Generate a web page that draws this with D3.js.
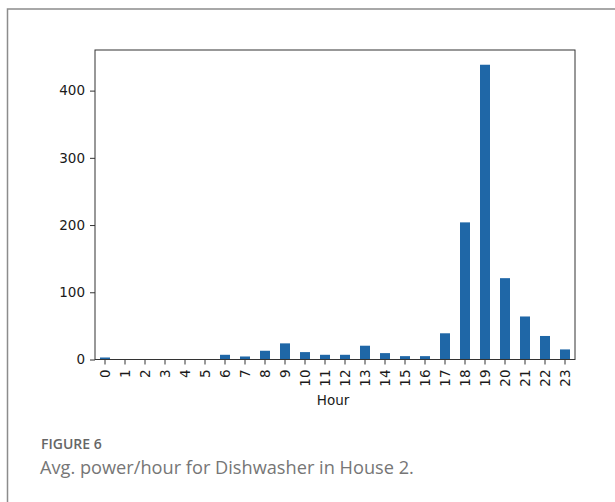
<!DOCTYPE html>
<html>
<head>
<meta charset="utf-8">
<script src="https://cdn.jsdelivr.net/npm/d3@7"></script>
<style>
    body { margin: 0; background: #fff; }
    svg { display: block; }
</style>
</head>
<body>
<div id="chart"></div>
<script>
// Avg. power per hour, Dishwasher, House 2
const hours = d3.range(24).map(String);
const power = [3, 0, 0, 0, 0, 0, 7, 4.5, 13, 24, 11, 7, 7, 20.5, 9.5, 5, 5, 39, 204, 438.5, 121, 64, 35, 15];
const yTicks = [0, 100, 200, 300, 400];

const width = 615;
const height = 502;
const margin = { top: 50, right: 40, bottom: 142.5, left: 95 };

const svg = d3.select("#chart")
    .append("svg")
    .attr("width", width)
    .attr("height", height);

// ===== outer figure frame (left + top only) =====
svg.append("path")
    .attr("d", `M7.5,${height}V9H${width}`)
    .attr("fill", "none")
    .attr("stroke", "#8c8c8c")
    .attr("stroke-width", 1.5);

const x = d3.scaleBand()
    .domain(hours)
    .range([margin.left, width - margin.right])
    .paddingInner(0.5)
    .paddingOuter(0.25);

const y = d3.scaleLinear()
    .domain([0, d3.max(power) * 1.05])
    .range([height - margin.bottom, margin.top]);

const g = svg.append("g");

g.selectAll(".bar")
    .data(power)
    .enter().append("rect")
    .attr("class", "bar")
    .attr("x", (d, i) => x(hours[i]))
    .attr("width", x.bandwidth())
    .attr("y", d => y(d))
    .attr("height", d => y(0) - y(d))
    .attr("fill", "#1f67a7");

// y axis
const yAxis = g.append("g")
    .attr("transform", `translate(${margin.left},0)`)
    .call(d3.axisLeft(y).tickValues(yTicks).tickSize(5).tickPadding(5));
yAxis.select(".domain").remove();
yAxis.selectAll("text")
    .style("font-family", "DejaVu Sans")
    .style("font-size", "13.5px")
    .attr("fill", "#1a1a1a");
yAxis.selectAll("line").attr("stroke", "#333");

// x axis
const xAxis = g.append("g")
    .attr("transform", `translate(0,${y(0)})`)
    .call(d3.axisBottom(x).tickSize(5).tickPadding(0));
xAxis.select(".domain").remove();
xAxis.selectAll("line").attr("stroke", "#333");
xAxis.selectAll("text")
    .style("font-family", "DejaVu Sans")
    .style("font-size", "13.5px")
    .attr("fill", "#1a1a1a")
    .attr("transform", "rotate(-90)")
    .attr("text-anchor", "end")
    .attr("x", -10)
    .attr("y", 0)
    .attr("dy", "0.35em");

// axes box
svg.append("rect")
    .attr("x", margin.left)
    .attr("y", margin.top)
    .attr("width", width - margin.left - margin.right)
    .attr("height", y(0) - margin.top)
    .attr("fill", "none")
    .attr("stroke", "#333")
    .attr("stroke-width", 1);

svg.append("text")
    .attr("x", (margin.left + width - margin.right) / 2 - 2)
    .attr("y", 405)
    .attr("text-anchor", "middle")
    .style("font-family", "DejaVu Sans")
    .style("font-size", "13.5px")
    .attr("fill", "#1a1a1a")
    .text("Hour");

// ===== caption =====
svg.append("text")
    .attr("x", 41)
    .attr("y", 448.5)
    .style("font-family", "Open Sans")
    .style("font-size", "14px")
    .style("font-weight", "600")
    .attr("fill", "#666")
    .text("FIGURE 6");

svg.append("text")
    .attr("x", 40)
    .attr("y", 473.5)
    .style("font-family", "Open Sans")
    .style("font-size", "18.2px")
    .attr("fill", "#767676")
    .text("Avg. power/hour for Dishwasher in House 2.");
</script>
</body>
</html>
